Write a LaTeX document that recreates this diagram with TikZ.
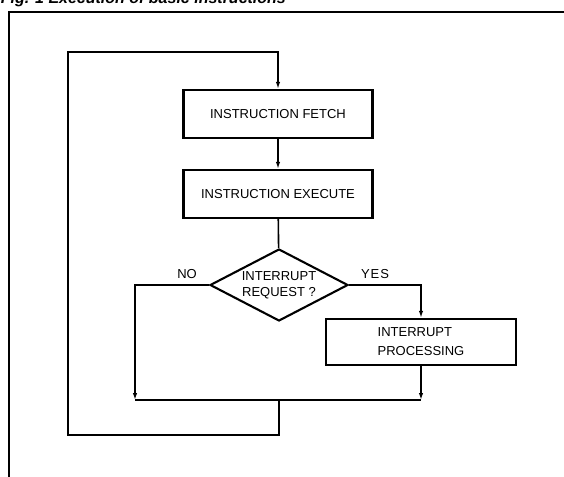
\documentclass[tikz,border=0pt]{standalone}
\usepackage{fontspec}
\setmainfont{Liberation Sans}
\usetikzlibrary{shapes.geometric,arrows.meta}

\begin{document}
\begin{tikzpicture}[
        x=1pt,y=-1pt,
        line width=1.6pt,
        >={Latex[length=7pt,width=4.5pt]},
        stepbox/.style={draw,line width=2.3pt,rectangle,minimum width=189pt,minimum height=48pt,
            font=\fontsize{13}{19}\selectfont},
        askbox/.style={draw,line width=2.1pt,diamond,aspect=1.9,inner sep=0pt,
            minimum width=138pt,minimum height=72pt,font=\fontsize{13}{16}\selectfont,align=center},
        tag/.style={font=\fontsize{13}{15}\selectfont}
    ]
    \useasboundingbox (0,0) rectangle (564,476);
    % title runs off the top edge
    \node[anchor=base west,inner sep=0pt,font=\fontsize{16}{18}\selectfont\bfseries\itshape]
        (title) at (0,3.5) {Fig. 1 Execution of basic instructions};
    \draw[line width=2.4pt] (570,12) -- (9,12) -- (9,482);

    \node[stepbox] (fetch) at (278,114) {INSTRUCTION FETCH};
    \node[stepbox] (exec) at (278,194) {INSTRUCTION EXECUTE};
    \node[askbox] (req) at (279,285) {INTERRUPT\\REQUEST ?};
    \node[stepbox,minimum width=190pt,minimum height=46pt,align=left] (intr) at (421,342)
        {INTERRUPT\\PROCESSING};

    \node[tag] (no) at (187,274) {NO};
    \node[tag] (yes) at (375,274) {Y\kern1pt E\kern1pt S};

    \coordinate (nojoin) at (135,400);
    \coordinate (yesjoin) at (421,400);
    \coordinate (merge) at (279,400);
    \coordinate (loopbot) at (68,435);
    \coordinate (looptop) at (68,52);

    \draw[->] (fetch) -- (exec);
    \draw (exec) -- (req);
    \draw[->] (req.west) -| (nojoin);
    \draw[->] (req.east) -| (intr.north);
    \draw[->] (intr.south) -- (yesjoin);
    \draw (nojoin) -- (yesjoin);
    \draw[->] (merge) |- (loopbot) -- (looptop) -| (fetch.north);
\end{tikzpicture}
\end{document}
